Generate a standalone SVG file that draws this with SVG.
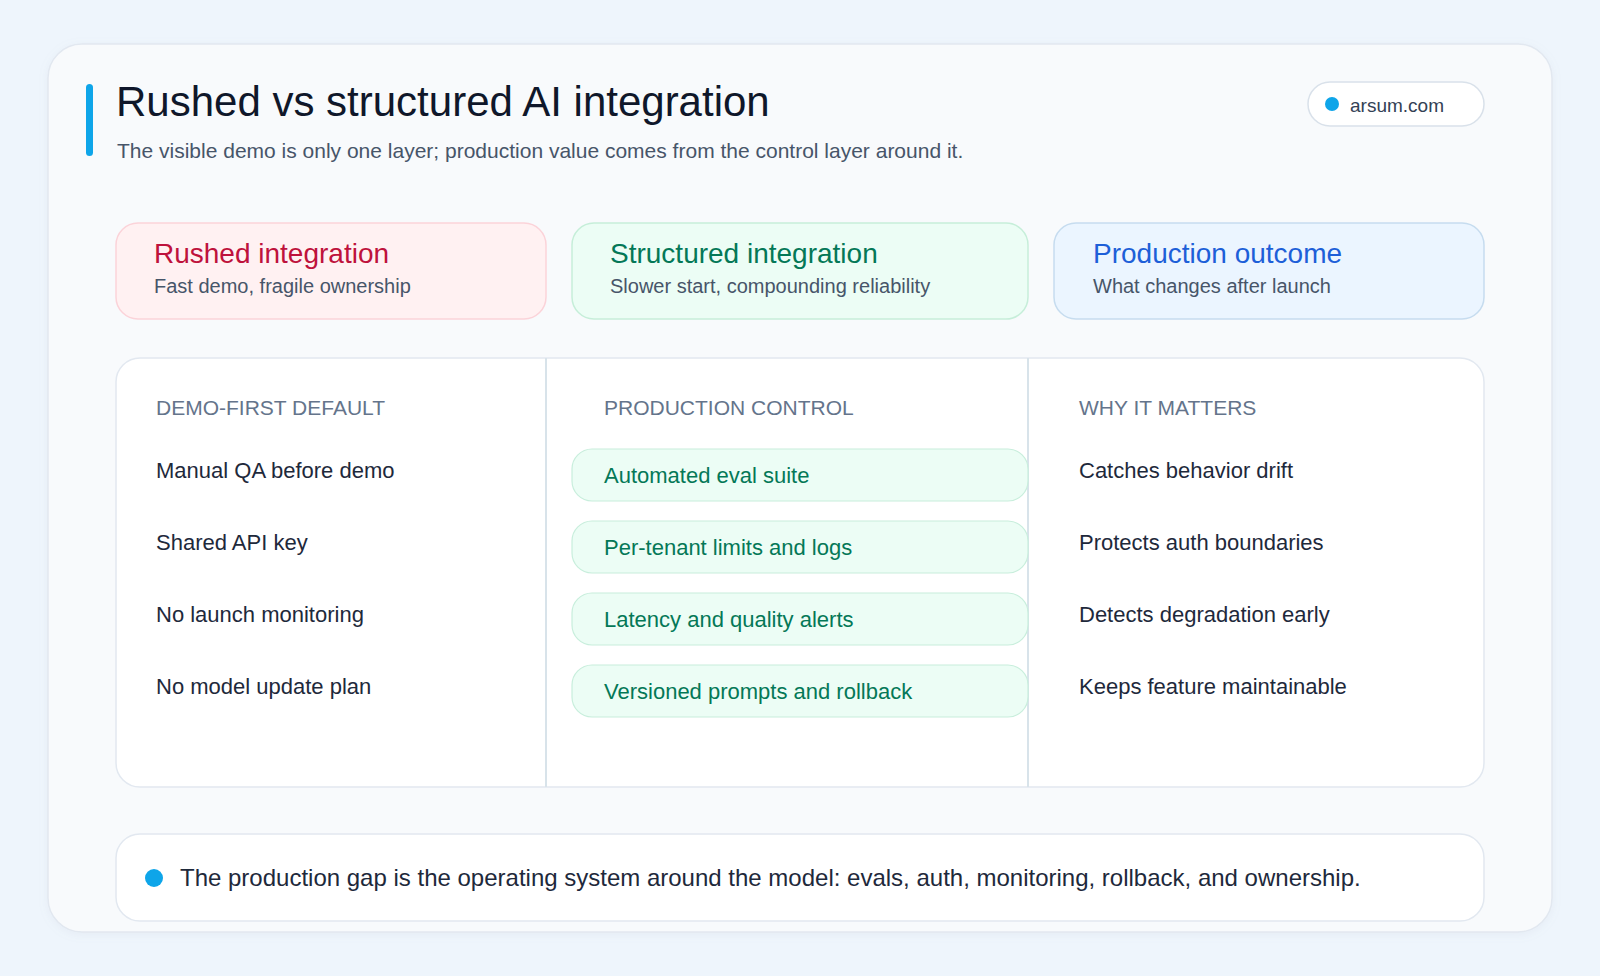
<svg xmlns="http://www.w3.org/2000/svg" width="1600" height="976" viewBox="0 0 1600 976">
  <defs>
    <style>
      text { font-family: "Liberation Sans", Arial, Helvetica, sans-serif; }
      .title { font-size: 42px; fill: #0f172a; }
      .subtitle { font-size: 21px; fill: #475569; }
      .badge-text { font-size: 19px; fill: #334155; }
      .card-title { font-size: 28px; }
      .card-sub { font-size: 20px; fill: #475569; }
      .col-head { font-size: 21px; fill: #64748b; }
      .item { font-size: 22px; fill: #1e293b; }
      .pill { fill: #ecfdf5; stroke: #c8eedc; stroke-width: 1.2; }
      .pill-text { font-size: 22px; fill: #047857; }
      .divider { stroke: #d8e3ea; stroke-width: 2; }
      .dot { fill: #0ea5e9; }
    </style>
    <filter id="soft" x="-5%" y="-5%" width="110%" height="115%">
      <feDropShadow dx="0" dy="2" stdDeviation="4" flood-color="#94a3b8" flood-opacity="0.10"/>
    </filter>
  </defs>

  <rect x="0" y="0" width="1600" height="976" fill="#eef5fc"/>

  <g id="frame">
    <rect x="48" y="44" width="1504" height="888" rx="34" fill="#f8fafc" stroke="#e2e8f0" stroke-width="1.5" filter="url(#soft)"/>
  </g>

  <g id="header">
    <rect x="86" y="84" width="7" height="72" rx="3.5" fill="#0ea5e9"/>
    <text class="title" x="116" y="116">Rushed vs structured AI integration</text>
    <text class="subtitle" x="117" y="158">The visible demo is only one layer; production value comes from the control layer around it.</text>
  </g>

  <g id="badge">
    <rect x="1308" y="82" width="176" height="44" rx="22" fill="#ffffff" stroke="#d9e1ea" stroke-width="1.5"/>
    <circle class="dot" cx="1332" cy="104" r="7"/>
    <text class="badge-text" x="1350" y="112">arsum.com</text>
  </g>

  <g id="card-rushed">
    <rect x="116" y="223" width="430" height="96" rx="22" fill="#fff1f2" stroke="#fbd3d9" stroke-width="1.5"/>
    <text class="card-title" x="154" y="263" fill="#be123c">Rushed integration</text>
    <text class="card-sub" x="154" y="293">Fast demo, fragile ownership</text>
  </g>

  <g id="card-structured">
    <rect x="572" y="223" width="456" height="96" rx="22" fill="#ecfdf5" stroke="#c6eed9" stroke-width="1.5"/>
    <text class="card-title" x="610" y="263" fill="#047857">Structured integration</text>
    <text class="card-sub" x="610" y="293">Slower start, compounding reliability</text>
  </g>

  <g id="card-outcome">
    <rect x="1054" y="223" width="430" height="96" rx="22" fill="#ebf5ff" stroke="#c6dcef" stroke-width="1.5"/>
    <text class="card-title" x="1093" y="263" fill="#1d5fd8">Production outcome</text>
    <text class="card-sub" x="1093" y="293">What changes after launch</text>
  </g>

  <g id="table">
    <rect x="116" y="358" width="1368" height="429" rx="24" fill="#ffffff" stroke="#e2e8f0" stroke-width="1.5"/>
  </g>

  <g id="connectors">
    <line class="divider" x1="546" y1="358" x2="546" y2="787"/>
    <line class="divider" x1="1028" y1="358" x2="1028" y2="787"/>
  </g>

  <g id="col-demo-first">
    <text class="col-head" x="156" y="415">DEMO-FIRST DEFAULT</text>
    <text class="item" x="156" y="478">Manual QA before demo</text>
    <text class="item" x="156" y="550">Shared API key</text>
    <text class="item" x="156" y="622">No launch monitoring</text>
    <text class="item" x="156" y="694">No model update plan</text>
  </g>

  <g id="col-production-control">
    <text class="col-head" x="604" y="415">PRODUCTION CONTROL</text>
    <g id="pill-eval">
      <rect class="pill" x="572" y="449" width="456" height="52" rx="20"/>
      <text class="pill-text" x="604" y="483">Automated eval suite</text>
    </g>
    <g id="pill-tenant">
      <rect class="pill" x="572" y="521" width="456" height="52" rx="20"/>
      <text class="pill-text" x="604" y="555">Per-tenant limits and logs</text>
    </g>
    <g id="pill-alerts">
      <rect class="pill" x="572" y="593" width="456" height="52" rx="20"/>
      <text class="pill-text" x="604" y="627">Latency and quality alerts</text>
    </g>
    <g id="pill-rollback">
      <rect class="pill" x="572" y="665" width="456" height="52" rx="20"/>
      <text class="pill-text" x="604" y="699">Versioned prompts and rollback</text>
    </g>
  </g>

  <g id="col-why">
    <text class="col-head" x="1079" y="415">WHY IT MATTERS</text>
    <text class="item" x="1079" y="478">Catches behavior drift</text>
    <text class="item" x="1079" y="550">Protects auth boundaries</text>
    <text class="item" x="1079" y="622">Detects degradation early</text>
    <text class="item" x="1079" y="694">Keeps feature maintainable</text>
  </g>

  <g id="footer-note">
    <rect x="116" y="834" width="1368" height="87" rx="24" fill="#ffffff" stroke="#e2e8f0" stroke-width="1.5"/>
    <circle class="dot" cx="154" cy="878" r="9"/>
    <text x="180" y="886" font-size="24" fill="#1e293b">The production gap is the operating system around the model: evals, auth, monitoring, rollback, and ownership.</text>
  </g>
</svg>
